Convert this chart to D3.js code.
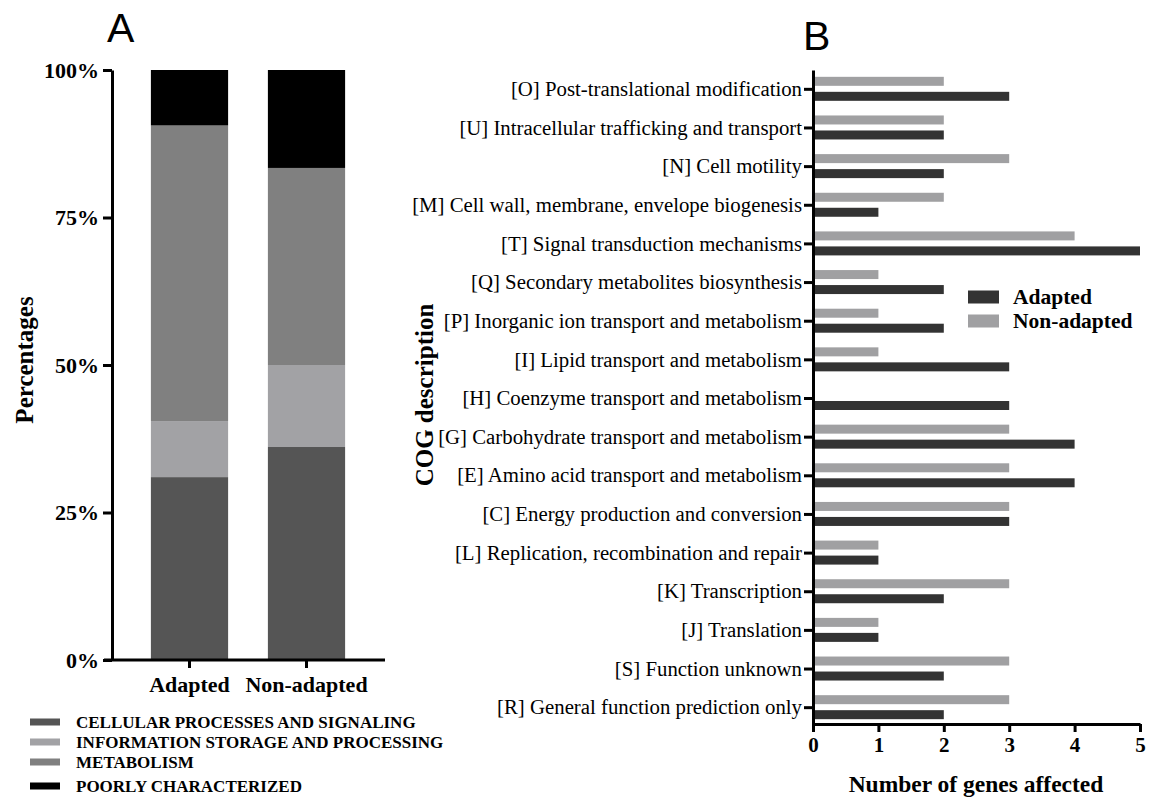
<!DOCTYPE html>
<html><head><meta charset="utf-8">
<script src="https://cdn.jsdelivr.net/npm/d3@7"></script>
<style>
body{margin:0;background:#fff;}
svg{display:block;}
</style></head>
<body><svg id="c" width="1150" height="801"></svg>
<script>
// ---- Panel A data ----
const groupsA = ["Adapted", "Non-adapted"];
const classesA = ["CELLULAR PROCESSES AND SIGNALING", "INFORMATION STORAGE AND PROCESSING", "METABOLISM", "POORLY CHARACTERIZED"];
const cellular = [31.0, 36.1];
const information = [9.5, 13.9];
const metabolism = [50.1, 33.4];
const poorly = [9.4, 16.6];
const ticksA = [0, 25, 50, 75, 100];
const colorsA = ["#555555", "#a2a2a5", "#808080", "#000000"];

// ---- Panel B data ----
const categoriesB = [
 "[O] Post-translational modification",
 "[U] Intracellular trafficking and transport",
 "[N] Cell motility",
 "[M] Cell wall, membrane, envelope biogenesis",
 "[T] Signal transduction mechanisms",
 "[Q] Secondary metabolites biosynthesis",
 "[P] Inorganic ion transport and metabolism",
 "[I] Lipid transport and metabolism",
 "[H] Coenzyme transport and metabolism",
 "[G] Carbohydrate transport and metabolism",
 "[E] Amino acid transport and metabolism",
 "[C] Energy production and conversion",
 "[L] Replication, recombination and repair",
 "[K] Transcription",
 "[J] Translation",
 "[S] Function unknown",
 "[R] General function prediction only"
];
const adapted    = [3,2,2,1,5,2,2,3,3,4,4,3,1,2,1,2,2];
const nonAdapted = [2,2,3,2,4,1,1,1,0,3,3,3,1,3,1,3,3];
const seriesB = ["Non-adapted", "Adapted"];
const colorsB = {"Adapted": "#333333", "Non-adapted": "#a0a0a2"};
const ticksB = [0,1,2,3,4,5];

const svg = d3.select("#c");
const SERIF = '"Liberation Serif","Times New Roman",serif';
const SANS = '"Liberation Sans",Arial,sans-serif';

// ================= Panel A =================
const gA = svg.append("g");
const xA = d3.scaleBand().domain(groupsA).range([131, 365]).paddingInner(0.34).paddingOuter(0.17);
const yA = d3.scaleLinear().domain([0, 100]).range([660, 70]);

const seriesVals = [cellular, information, metabolism, poorly];
const rowsA = groupsA.map((g, i) => {
  const o = {group: g};
  classesA.forEach((c, k) => o[c] = seriesVals[k][i]);
  return o;
});
const stack = d3.stack().keys(classesA)(rowsA);
stack.forEach((layer, k) => {
  gA.selectAll(null).data(layer).enter().append("rect")
    .attr("x", d => xA(d.data.group))
    .attr("width", xA.bandwidth())
    .attr("y", d => yA(d[1]))
    .attr("height", d => yA(d[0]) - yA(d[1]))
    .attr("fill", colorsA[k]);
});

// y axis
const yAxisA = d3.axisLeft(yA).tickValues(ticksA).tickFormat(d => d + "%").tickSize(9).tickSizeOuter(0);
const gyA = gA.append("g").attr("transform", "translate(112,0)").call(yAxisA);
gyA.select(".domain").attr("stroke", "#000").attr("stroke-width", 3);
gyA.selectAll(".tick line").attr("stroke", "#000").attr("stroke-width", 3);
gyA.selectAll(".tick text").attr("font-family", SERIF).attr("font-weight", "bold")
  .attr("font-size", 22).attr("fill", "#000").attr("x", -13).attr("dy", "0.34em");

// x axis
const xAxisA = d3.axisBottom(xA).tickSize(8).tickSizeOuter(0);
const gxA = gA.append("g").attr("transform", "translate(0,660)").call(xAxisA);
gxA.select(".domain").attr("d", "M104,0H385").attr("stroke", "#000").attr("stroke-width", 3);
gxA.selectAll(".tick line").attr("stroke", "#000").attr("stroke-width", 3);
gxA.selectAll(".tick text").attr("font-family", SERIF).attr("font-weight", "bold")
  .attr("font-size", 22).attr("fill", "#000").attr("y", 32).attr("dy", 0);

gA.append("text").attr("transform", "translate(33,360) rotate(-90)")
  .attr("text-anchor", "middle").attr("font-family", SERIF).attr("font-weight", "bold")
  .attr("font-size", 25).text("Percentages");

gA.append("text").attr("x", 107).attr("y", 42).attr("font-family", SANS)
  .attr("font-size", 41).text("A");

// legend A
const legA = gA.append("g");
const legRowsY = [722, 742, 762, 786];
classesA.forEach((c, k) => {
  legA.append("rect").attr("x", 30).attr("y", legRowsY[k] - 3.5).attr("width", 30).attr("height", 7).attr("fill", colorsA[k]);
  legA.append("text").attr("x", 76).attr("y", legRowsY[k] + 5.5).attr("font-family", SERIF)
    .attr("font-weight", "bold").attr("font-size", 17).text(c);
});

// ================= Panel B =================
const gB = svg.append("g");
const xB = d3.scaleLinear().domain([0, 5]).range([813, 1140]);
const yB = d3.scaleBand().domain(categoriesB).range([70, 727]);
const yInner = d3.scaleBand().domain(seriesB).range([-12.5, 11.5]).paddingInner(0.4);

const rowsB = categoriesB.map((c, i) => ({cat: c, "Adapted": adapted[i], "Non-adapted": nonAdapted[i]}));
seriesB.forEach(s => {
  gB.selectAll(null).data(rowsB).enter().append("rect")
    .attr("x", xB(0))
    .attr("y", d => yB(d.cat) + yB.bandwidth() / 2 + yInner(s))
    .attr("height", yInner.bandwidth())
    .attr("width", d => xB(d[s]) - xB(0))
    .attr("fill", colorsB[s]);
});

const yAxisB = d3.axisLeft(yB).tickSize(9).tickSizeOuter(0);
const gyB = gB.append("g").attr("transform", "translate(813,0)").call(yAxisB);
gyB.select(".domain").attr("stroke", "#000").attr("stroke-width", 3);
gyB.selectAll(".tick line").attr("stroke", "#000").attr("stroke-width", 3);
gyB.selectAll(".tick text").attr("font-family", SERIF).attr("font-size", 20.8)
  .attr("fill", "#000").attr("x", -11).attr("dy", "0.32em");

const xAxisB = d3.axisBottom(xB).tickValues(ticksB).tickFormat(d3.format("d")).tickSize(8).tickSizeOuter(0);
const gxB = gB.append("g").attr("transform", "translate(0,724)").call(xAxisB);
gxB.select(".domain").attr("stroke", "#000").attr("stroke-width", 3);
gxB.selectAll(".tick line").attr("stroke", "#000").attr("stroke-width", 3);
gxB.selectAll(".tick text").attr("font-family", SERIF).attr("font-weight", "bold")
  .attr("font-size", 21).attr("fill", "#000").attr("y", 28).attr("dy", 0);

gB.append("text").attr("x", 976).attr("y", 792).attr("text-anchor", "middle")
  .attr("font-family", SERIF).attr("font-weight", "bold").attr("font-size", 23.5)
  .text("Number of genes affected");

gB.append("text").attr("transform", "translate(433,395) rotate(-90)")
  .attr("text-anchor", "middle").attr("font-family", SERIF).attr("font-weight", "bold")
  .attr("font-size", 25).text("COG description");

gB.append("text").attr("x", 803).attr("y", 50).attr("font-family", SANS)
  .attr("font-size", 41).text("B");

// legend B
const legB = [{k: "Adapted", y: 297}, {k: "Non-adapted", y: 321}];
legB.forEach(d => {
  gB.append("rect").attr("x", 968).attr("y", d.y - 6.5).attr("width", 31).attr("height", 13).attr("fill", colorsB[d.k]);
  gB.append("text").attr("x", 1013).attr("y", d.y + 6.5).attr("font-family", SERIF)
    .attr("font-weight", "bold").attr("font-size", 21.5).text(d.k);
});
</script></body></html>
